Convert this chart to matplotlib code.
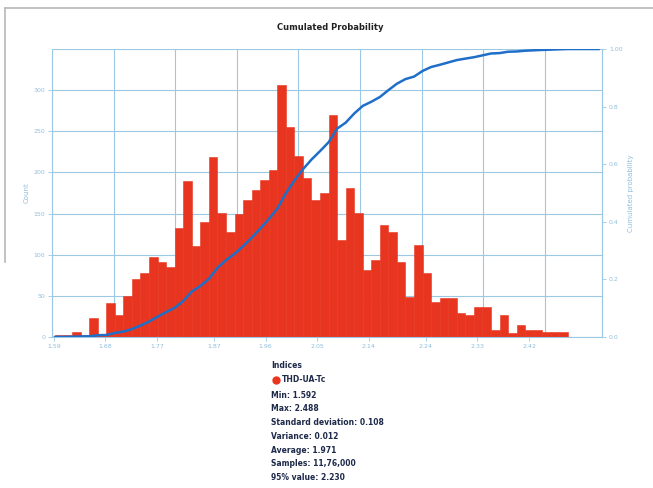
import numpy as np
import matplotlib
matplotlib.use("Agg")
import matplotlib.pyplot as plt
from matplotlib.lines import Line2D

# ---- data -------------------------------------------------------------
series_name = "THD-UA-Tc"
value_min = 1.592
value_max = 2.488
std_dev = 0.108
variance = 0.012
average = 1.971
samples_label = "11,76,000"
p95_value = 2.230

# occurrences per class (60 equal classes between min and max)
counts = [2, 3, 6, 2, 23, 3, 41, 27, 50, 70,
          78, 97, 91, 85, 133, 189, 110, 140, 219, 151,
          127, 150, 167, 179, 191, 203, 306, 255, 220, 193,
          167, 175, 270, 118, 181, 151, 82, 94, 136, 128,
          91, 49, 112, 78, 43, 47, 47, 29, 27, 37,
          37, 8, 27, 5, 15, 8, 8, 6, 6, 6]

x_ticks = [1.59, 1.68, 1.77, 1.87, 1.96, 2.05, 2.14, 2.24, 2.33, 2.42]
count_ticks = [0, 50, 100, 150, 200, 250, 300]
prob_ticks = [0.0, 0.2, 0.4, 0.6, 0.8, 1.0]

# ---- styling ----------------------------------------------------------
BAR = "#e8351f"
LINE = "#1f6fc8"
AXIS = "#9cc8e4"
TICKTXT = "#8fbfdc"
TXT = "#1e2a4a"

fig = plt.figure(figsize=(6.53, 4.88), dpi=100)
fig.patch.set_facecolor("white")

# partial frame of the panel
fig.add_artist(Line2D([5 / 653, 1.0], [1 - 8 / 488, 1 - 8 / 488],
                      transform=fig.transFigure, color="#b8b8b8", lw=1.2))
fig.add_artist(Line2D([5 / 653, 5 / 653], [1 - 8 / 488, 1 - 262 / 488],
                      transform=fig.transFigure, color="#b8b8b8", lw=1.2))

ax = fig.add_axes([52 / 653, 1 - 337 / 488, 550 / 653, 288 / 488])

edges = np.linspace(value_min, value_max, len(counts) + 1)
widths = np.diff(edges)
ax.bar(edges[:-1], counts, width=widths, align="edge", color=BAR,
       edgecolor=BAR, linewidth=0.4, zorder=2)

x_left = value_min - 0.0052
x_right = value_min + 0.9555
ax.set_xlim(x_left, x_right)
ax.set_ylim(0, 350)

ax.set_xticks(x_ticks)
ax.set_xticklabels([f"{t:.2f}" for t in x_ticks])
ax.set_yticks(count_ticks)
ax.set_yticks([350], minor=True)
ax.yaxis.grid(True, which="both", color=AXIS, lw=0.8, zorder=0)
ax.tick_params(axis="both", colors=AXIS, labelcolor=TICKTXT, labelsize=4.5,
               length=3, width=0.6, pad=2)
ax.tick_params(axis="y", which="minor", length=0)
for s in ax.spines.values():
    s.set_color(AXIS)
    s.set_linewidth(0.8)
ax.spines["top"].set_visible(False)
ax.set_ylabel("Count", color=TICKTXT, fontsize=5, labelpad=3)
ax.set_axisbelow(True)

# vertical grid on its own scale
axg = ax.twiny()
axg.set_xlim(0, 550 / 61.6)
axg.set_xticks(np.arange(0, 9))
axg.xaxis.grid(True, color=AXIS, lw=0.8)
axg.tick_params(axis="x", length=0, labeltop=False)
for s in axg.spines.values():
    s.set_visible(False)
axg.set_zorder(0)
ax.set_zorder(1)
ax.patch.set_visible(False)

# cumulative probability on the right axis
axr = ax.twinx()
cum = np.cumsum(counts) / np.sum(counts)
cx = np.concatenate([[value_min], edges[1:], [x_right - 0.006]])
cy = np.concatenate([[0.0], cum, [1.0]])
axr.plot(cx, cy, color=LINE, lw=1.8, zorder=3)
axr.set_ylim(0, 1.0)
axr.set_xlim(x_left, x_right)
axr.set_yticks(prob_ticks)
axr.set_yticklabels(["0.0", "0.2", "0.4", "0.6", "0.8", "1.00"])
axr.tick_params(axis="y", colors=AXIS, labelcolor=TICKTXT, labelsize=4.5,
                length=3, width=0.6, pad=2)
for s in axr.spines.values():
    s.set_visible(False)
axr.spines["right"].set_visible(True)
axr.spines["right"].set_color(AXIS)
axr.set_ylabel("Cumulated probability", color=TICKTXT, fontsize=5,
               labelpad=4)

fig.text(330 / 653, 1 - 28 / 488, "Cumulated Probability", ha="center",
         va="center", fontsize=6, fontweight="bold", color="#222222")

# statistics block under the chart
lx = 271 / 653
fig.text(lx, 1 - 366 / 488, "Indices", fontsize=5.5, color=TXT, va="center",
         fontweight="bold")
fig.add_artist(Line2D([lx + 0.007], [1 - 380 / 488], marker="o",
                      markersize=5, color=BAR, transform=fig.transFigure))
fig.text(lx + 0.017, 1 - 380 / 488, series_name, fontsize=5.5, color=TXT,
         va="center", fontweight="bold")
stats = [
    f"Min: {value_min:.3f}",
    f"Max: {value_max:.3f}",
    f"Standard deviation: {std_dev:.3f}",
    f"Variance: {variance:.3f}",
    f"Average: {average:.3f}",
    f"Samples: {samples_label}",
    f"95% value: {p95_value:.3f}",
]
for i, s in enumerate(stats):
    fig.text(lx, 1 - (395 + i * 13.8) / 488, s, fontsize=5.5, color=TXT,
             va="center", fontweight="bold")

fig.savefig("out.png", dpi=100)
